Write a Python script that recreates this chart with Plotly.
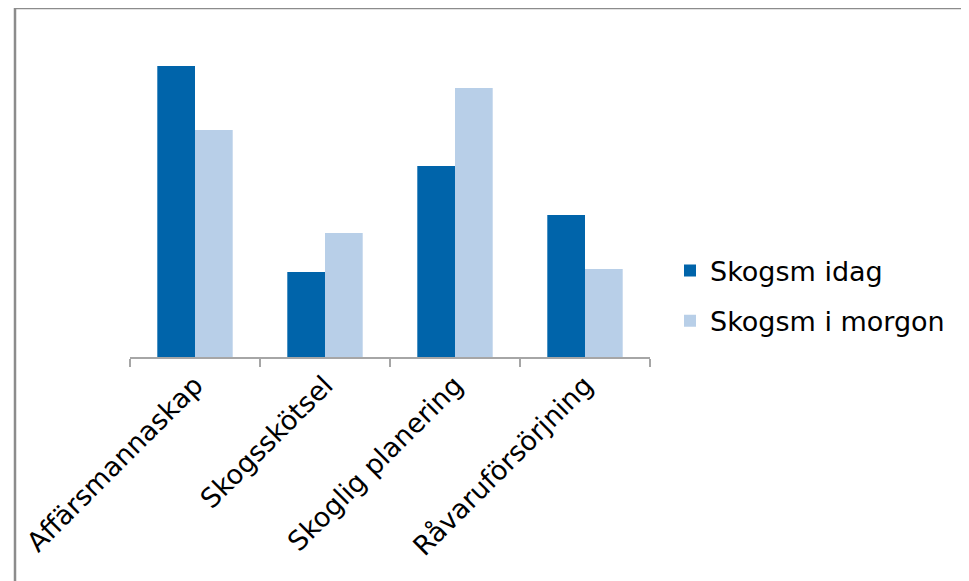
import plotly.graph_objects as go

categories = ["Affärsmannaskap", "Skogsskötsel", "Skoglig planering", "Råvaruförsörjning"]
skogsm_idag = [97, 28.3, 63.7, 47.3]
skogsm_i_morgon = [75.7, 41.3, 89.7, 29.3]
series_names = ["Skogsm idag", "Skogsm i morgon"]

OFF = 8  # page body margin
W, H = 969, 581
L, R = 130 - OFF, 650 - OFF
T, B = 30 - OFF, 357 - OFF
pw, ph = R - L, B - T

def px_x(p):
    return (p - OFF - L) / pw

def px_y(p):
    return (B - (p - OFF)) / ph

fig = go.Figure()
fig.add_trace(go.Bar(x=categories, y=skogsm_idag, name=series_names[0],
                     marker=dict(color="#0064AA", line=dict(width=0)),
                     legendgroup="a"))
fig.add_trace(go.Bar(x=categories, y=skogsm_i_morgon, name=series_names[1],
                     marker=dict(color="#B8CFE8", line=dict(width=0)),
                     legendgroup="b"))

fig.update_layout(
    width=W, height=H,
    margin=dict(l=L, r=W - R, t=T, b=H - B, pad=0),
    paper_bgcolor="white", plot_bgcolor="white",
    barmode="group", bargap=0.42, bargroupgap=0,
    font=dict(family="DejaVu Sans, Verdana, sans-serif", size=27, color="#000000"),
    showlegend=True,
    legend=dict(x=px_x(670), y=px_y(296), xanchor="left", yanchor="middle",
                traceorder="grouped", tracegroupgap=12,
                font=dict(size=27), bgcolor="rgba(0,0,0,0)"),
    xaxis=dict(showline=True, linecolor="#A6A6A6", linewidth=1.5,
               ticks="outside", tickson="boundaries", ticklen=8,
               tickcolor="#A6A6A6", tickwidth=1.5,
               tickangle=-45, showgrid=False, tickfont=dict(size=27)),
    yaxis=dict(range=[0, 109], visible=False, showgrid=False),
    shapes=[dict(type="rect", xref="paper", yref="paper",
                 x0=px_x(15), x1=px_x(990), y0=px_y(8), y1=px_y(600),
                 line=dict(color="#8C8C8C", width=2.5), fillcolor="rgba(0,0,0,0)",
                 layer="below")],
)

fig.write_html("out.html")
